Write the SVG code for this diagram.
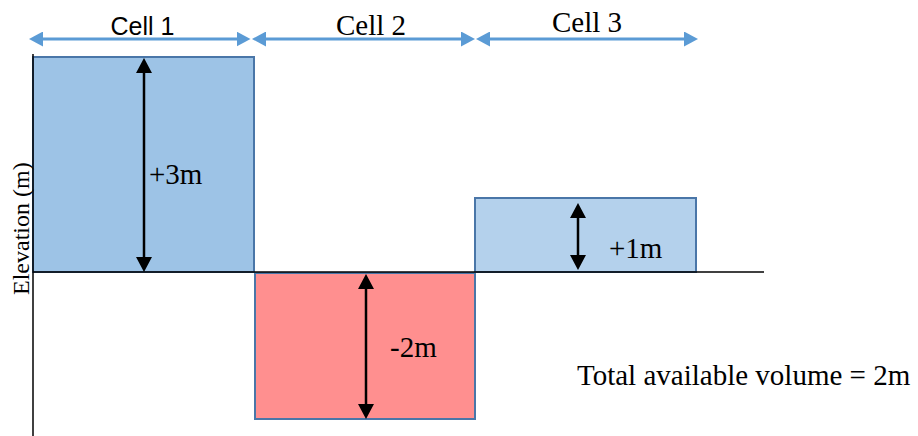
<svg xmlns="http://www.w3.org/2000/svg" width="918" height="436" viewBox="0 0 918 436">
  <defs>
    <style>
      .cell { stroke: #4a76a8; stroke-width: 2; }
      .span { stroke: #5b9bd5; stroke-width: 3; fill: none; }
      .dim { stroke: #000; stroke-width: 2.5; fill: none; }
      .axis { stroke: #000; stroke-width: 1.5; fill: none; }
      .times { font-family: "Liberation Serif", "Times New Roman", Times, "DejaVu Serif", serif; fill: #000; }
      .calibri { font-family: "Liberation Sans", Arial, sans-serif; fill: #000; }
    </style>
    <!-- blue span arrowhead: 14 long, 15 wide -->
    <marker id="headBlue" markerUnits="userSpaceOnUse" markerWidth="14" markerHeight="15"
            refX="9" refY="7.5" orient="auto-start-reverse" viewBox="0 0 14 15">
      <path d="M0,0 L14,7.5 L0,15 Z" fill="#5b9bd5"/>
    </marker>
    <!-- black dimension arrowhead: 15 long, 16 wide -->
    <marker id="headBlack" markerUnits="userSpaceOnUse" markerWidth="15" markerHeight="16"
            refX="10" refY="8" orient="auto-start-reverse" viewBox="0 0 15 16">
      <path d="M0,0 L15,8 L0,16 Z" fill="#000"/>
    </marker>
  </defs>

  <rect width="918" height="436" fill="#fff"/>

  <!-- cells -->
  <g id="cell1">
    <rect class="cell" x="33" y="57" width="221" height="215" fill="#9dc3e6"/>
  </g>
  <g id="cell2">
    <rect class="cell" x="255" y="273" width="220" height="146" fill="#ff8f8f"/>
  </g>
  <g id="cell3">
    <rect class="cell" x="475" y="198" width="221" height="74" fill="#b4d1ec"/>
  </g>

  <!-- axes -->
  <g id="axes">
    <line class="axis" x1="33" y1="54" x2="33" y2="436"/>
    <line class="axis" x1="33" y1="272" x2="764" y2="272"/>
    <text class="times" font-size="24" transform="translate(29,295) rotate(-90)">Elevation (m)</text>
  </g>

  <!-- span and dimension arrows -->
  <g id="connectors">
    <line class="span" x1="34" y1="39" x2="245.5" y2="39" marker-start="url(#headBlue)" marker-end="url(#headBlue)"/>
    <line class="span" x1="257" y1="39" x2="470" y2="39" marker-start="url(#headBlue)" marker-end="url(#headBlue)"/>
    <line class="span" x1="481" y1="39" x2="693" y2="39" marker-start="url(#headBlue)" marker-end="url(#headBlue)"/>

    <line class="dim" x1="144" y1="63" x2="144" y2="267" marker-start="url(#headBlack)" marker-end="url(#headBlack)"/>
    <line class="dim" x1="366" y1="279" x2="366" y2="414" marker-start="url(#headBlack)" marker-end="url(#headBlack)"/>
    <line class="dim" x1="578" y1="208" x2="578" y2="265" marker-start="url(#headBlack)" marker-end="url(#headBlack)"/>
  </g>

  <!-- labels -->
  <g id="labels">
    <text class="calibri" font-size="25" x="142.5" y="35" text-anchor="middle">Cell 1</text>
    <text class="times" font-size="29" x="371" y="35" text-anchor="middle">Cell 2</text>
    <text class="times" font-size="29" x="587" y="32" text-anchor="middle">Cell 3</text>
    <text class="times" font-size="29" x="149" y="184">+3m</text>
    <text class="times" font-size="29" x="390" y="357">-2m</text>
    <text class="times" font-size="29" x="609" y="258">+1m</text>
    <text class="times" font-size="29" x="577" y="385">Total available volume = 2m</text>
  </g>
</svg>
